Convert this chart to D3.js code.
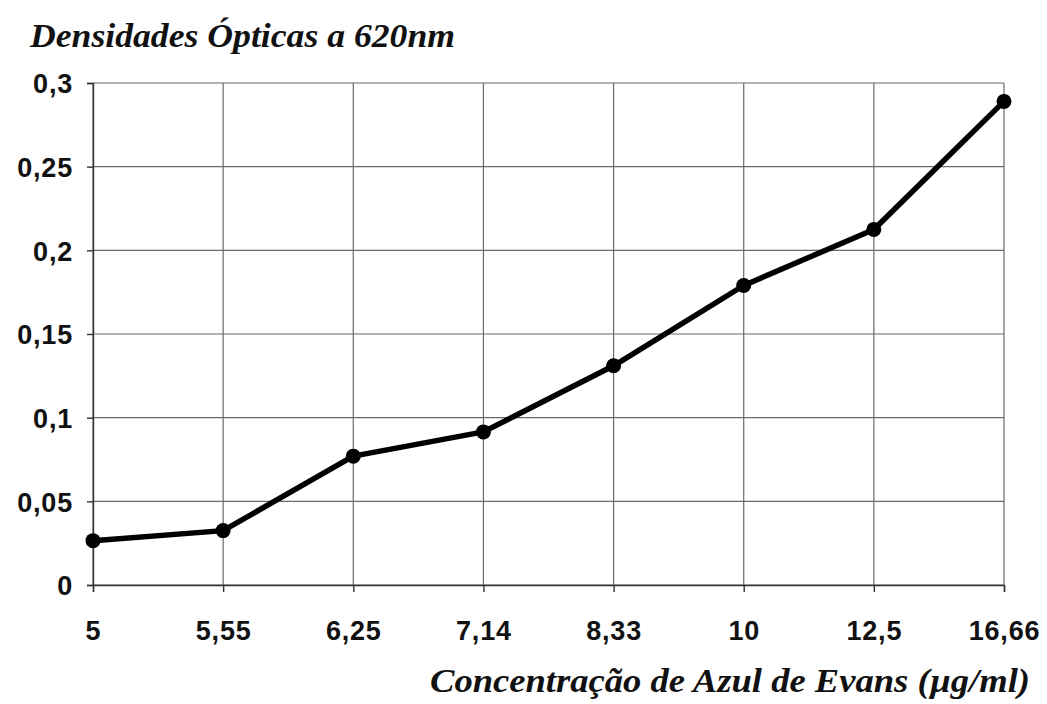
<!DOCTYPE html>
<html>
<head>
<meta charset="utf-8">
<script src="https://cdn.jsdelivr.net/npm/d3@7"></script>
<style>
  html, body { margin: 0; padding: 0; background: #fff; }
  svg { display: block; }
</style>
</head>
<body>
<svg id="chart" width="1047" height="704"></svg>
<script>
const categories = ["5", "5,55", "6,25", "7,14", "8,33", "10", "12,5", "16,66"];
const values = [0.0265, 0.0325, 0.077, 0.0915, 0.131, 0.179, 0.2125, 0.289];
const yTicks = [0, 0.05, 0.1, 0.15, 0.2, 0.25, 0.3];
const yTickLabels = ["0", "0,05", "0,1", "0,15", "0,2", "0,25", "0,3"];
const yTitle = "Densidades Ópticas a 620nm";
const xTitle = "Concentração de Azul de Evans (µg/ml)";

const svg = d3.select("#chart");
const pLeft = 93, pRight = 1004, pTop = 83, pBottom = 585;

const x = d3.scalePoint().domain(categories).range([pLeft, pRight]);
const y = d3.scaleLinear().domain([0, 0.3]).range([pBottom, pTop]);

// grid
const grid = svg.append("g").attr("stroke", "#6a6a6a").attr("stroke-width", 1.2);
grid.selectAll("line.h").data(yTicks).join("line")
  .attr("class", "h")
  .attr("x1", pLeft).attr("x2", pRight)
  .attr("y1", d => y(d)).attr("y2", d => y(d));
grid.selectAll("line.v").data(categories).join("line")
  .attr("class", "v")
  .attr("x1", d => x(d)).attr("x2", d => x(d))
  .attr("y1", pTop).attr("y2", pBottom);

// axes
const yAxis = d3.axisLeft(y).tickValues(yTicks)
  .tickFormat((d, i) => yTickLabels[i]).tickSize(6).tickPadding(14);
const gy = svg.append("g").attr("transform", `translate(${pLeft},0)`).call(yAxis);
const xAxis = d3.axisBottom(x).tickSize(7).tickPadding(29);
const gx = svg.append("g").attr("transform", `translate(0,${pBottom})`).call(xAxis);

[gy, gx].forEach(g => {
  g.select(".domain").attr("stroke", "#333").attr("stroke-width", 1.4);
  g.selectAll(".tick line").attr("stroke", "#333").attr("stroke-width", 1.4);
  g.selectAll(".tick text")
    .attr("fill", "#111")
    .style("font-family", "'Liberation Sans', Arial, sans-serif")
    .style("font-weight", "bold")
    .style("font-size", "27px")
    .style("letter-spacing", "0.8px");
});
gy.selectAll(".tick text").attr("dy", "0.36em");

// line
const line = d3.line().x((d, i) => x(categories[i])).y(d => y(d));
svg.append("path").datum(values)
  .attr("d", line)
  .attr("fill", "none")
  .attr("stroke", "#000")
  .attr("stroke-width", 5.5)
  .attr("stroke-linejoin", "round");

svg.selectAll("circle.pt").data(values).join("circle")
  .attr("class", "pt")
  .attr("cx", (d, i) => x(categories[i]))
  .attr("cy", d => y(d))
  .attr("r", 7.5)
  .attr("fill", "#000");

// titles
svg.append("text")
  .attr("x", 30).attr("y", 47)
  .attr("textLength", 425).attr("lengthAdjust", "spacingAndGlyphs")
  .style("font-family", "'Liberation Serif', 'DejaVu Serif', serif")
  .style("font-style", "italic")
  .style("font-weight", "bold")
  .style("font-size", "34px")
  .attr("fill", "#111")
  .text(yTitle);

svg.append("text")
  .attr("x", 430).attr("y", 692)
  .attr("textLength", 600).attr("lengthAdjust", "spacingAndGlyphs")
  .style("font-family", "'Liberation Serif', 'DejaVu Serif', serif")
  .style("font-style", "italic")
  .style("font-weight", "bold")
  .style("font-size", "34px")
  .attr("fill", "#111")
  .text(xTitle);
</script>
</body>
</html>
